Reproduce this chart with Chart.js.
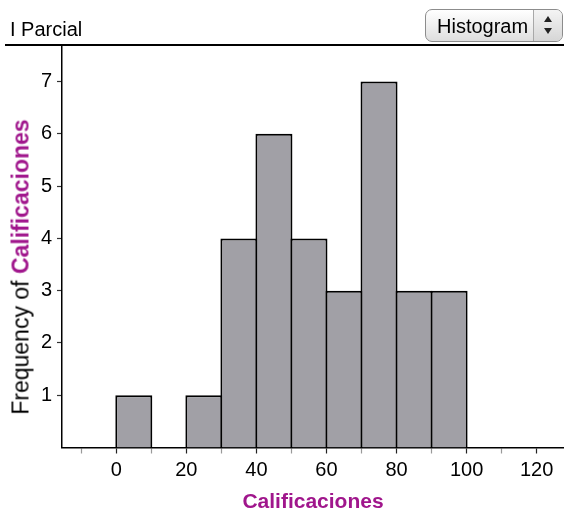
<!DOCTYPE html>
<html>
<head>
<meta charset="utf-8">
<script src="https://cdn.jsdelivr.net/npm/chart.js@4/dist/chart.umd.min.js"></script>
<style>
  html, body { margin: 0; padding: 0; background: #fff; }
  body { width: 564px; height: 509px; position: relative; overflow: hidden;
         font-family: 'Liberation Sans', Arial, Helvetica, sans-serif; }
  #wrap { position: absolute; left: 0; top: 0; width: 564px; height: 509px; }
  .abs { position: absolute; white-space: nowrap; }
  #header { left: 10px; top: 19px; font-size: 20px; line-height: 20px; color: #000; }
  #rule { left: 5px; top: 43.5px; width: 559px; height: 2px; background: #000; }
  #btn { left: 425px; top: 9px; width: 136px; height: 31px; border: 1px solid #8c8c8c;
         border-radius: 7px; background: linear-gradient(#ffffff, #f1f1f1 45%, #dedede); }
  #btnSpin { left: 533px; top: 10px; width: 28px; height: 31px; border-left: 1px solid #a8a8a8;
             border-radius: 0 6px 6px 0; background: linear-gradient(#f4f4f4, #d6d6d6); }
  #btnText { left: 437px; top: 16px; font-size: 20px; line-height: 20px; color: #000; }
  .tri { position: absolute; width: 0; height: 0; border-left: 4px solid transparent; border-right: 4px solid transparent; }
  #up { left: 544px; top: 16px; border-bottom: 6px solid #222; }
  #down { left: 544px; top: 28px; border-top: 6px solid #222; }
  #ytitle { left: 21px; top: 267px; font-size: 23px; line-height: 23px; color: #000;
            transform: translate(-50%, -50%) rotate(-90deg); }
  #ytitle b { color: #a0168c; font-weight: bold; }
</style>
</head>
<body>
<div id="wrap"><canvas id="c"></canvas></div>
<div class="abs" id="header">I Parcial</div>
<div class="abs" id="rule"></div>
<div class="abs" id="btn"></div>
<div class="abs" id="btnSpin"></div>
<div class="abs" id="btnText">Histogram</div>
<div class="tri" id="up"></div>
<div class="tri" id="down"></div>
<div class="abs" id="ytitle">Frequency of <b>Calificaciones</b></div>
<script>
// ---- data ----
const binStarts = [0, 10, 20, 30, 40, 50, 60, 70, 80, 90];
const binWidth = 10;
const frequencies = [1, 0, 1, 4, 6, 4, 3, 7, 3, 3];
const xTickValues = [-10, 0, 10, 20, 30, 40, 50, 60, 70, 80, 90, 100, 110, 120];
const xTickLabels = ['', '0', '', '20', '', '40', '', '60', '', '80', '', '100', '', '120'];
const yTickValues = [1, 2, 3, 4, 5, 6, 7];
const yTickLabels = ['1', '2', '3', '4', '5', '6', '7'];

Chart.defaults.font.family = "'Liberation Sans', Arial, Helvetica, sans-serif";

const points = binStarts.map((s, i) => ({ x: s + binWidth / 2, y: frequencies[i] }));

new Chart(document.getElementById('c'), {
  type: 'bar',
  data: {
    datasets: [{
      label: 'Frequency of Calificaciones',
      data: points,
      backgroundColor: '#a1a0a6',
      borderColor: '#000',
      borderWidth: 2,
      barPercentage: 1.057,
      categoryPercentage: 1
    }]
  },
  options: {
    responsive: true,
    maintainAspectRatio: false,
    animation: false,
    layout: { padding: { top: 45, left: 0, right: 0, bottom: 0 } },
    plugins: { legend: { display: false }, tooltip: { enabled: false }, title: { display: false } },
    scales: {
      x: {
        type: 'linear',
        position: 'bottom',
        min: -15.5,
        max: 127.8,
        offset: false,
        afterBuildTicks: (axis) => { axis.ticks = xTickValues.map(v => ({ value: v })); },
        afterFit: (s) => { s.height = 61.5; },
        ticks: {
          autoSkip: false, maxRotation: 0, minRotation: 0,
          color: '#000', font: { size: 20 }, padding: 5,
          callback: (v, i) => xTickLabels[i]
        },
        grid: {
          drawOnChartArea: false, drawTicks: true, tickLength: 6, offset: false,
          tickWidth: 1.2,
          tickColor: (ctx) => (xTickLabels[ctx.index] ? '#222' : '#9a9a9a')
        },
        border: { display: true, color: '#000', width: 1.5 },
        title: {
          display: true, text: 'Calificaciones', color: '#a0168c',
          font: { size: 21, weight: 'bold', lineHeight: 0.67 }, padding: 0
        }
      },
      y: {
        type: 'linear',
        min: 0,
        max: 7.7,
        afterBuildTicks: (axis) => { axis.ticks = yTickValues.map(v => ({ value: v })); },
        afterFit: (s) => { s.width = 62; },
        ticks: {
          color: '#000', font: { size: 20 }, padding: 5,
          callback: (v, i) => yTickLabels[i]
        },
        grid: { drawOnChartArea: false, drawTicks: true, tickLength: 5, tickColor: '#333', tickWidth: 1.2 },
        border: { display: true, color: '#000', width: 1.5 },
        title: { display: false }
      }
    }
  }
});
</script>
</body>
</html>
